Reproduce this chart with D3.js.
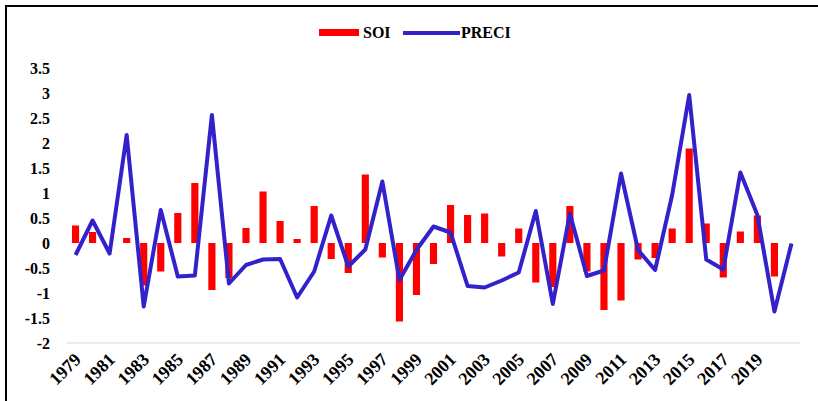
<!DOCTYPE html>
<html>
<head>
<meta charset="utf-8">
<script src="https://cdn.jsdelivr.net/npm/d3@7"></script>
<style>
  body { margin: 0; background: #fff; }
  text { font-family: "Liberation Serif", "Times New Roman", serif; font-weight: bold; fill: #000; }
</style>
</head>
<body>
<div id="chart"></div>
<script>
const years = d3.range(1979, 2022);
const soi = [0.35, 0.22, 0, 0.1, -0.85, -0.57, 0.6, 1.2, -0.94, -0.7, 0.3, 1.03,
  0.44, 0.08, 0.74, -0.32, -0.6, 1.37, -0.29, -1.57, -1.04, -0.42, 0.76, 0.56,
  0.59, -0.27, 0.29, -0.79, -0.88, 0.74, -0.57, -1.34, -1.15, -0.33, -0.3, 0.29,
  1.89, 0.39, -0.69, 0.23, 0.55, -0.67, null];
const preci = [-0.24, 0.45, -0.21, 2.16, -1.27, 0.66, -0.67, -0.65, 2.56, -0.81, -0.44, -0.33,
  -0.32, -1.09, -0.57, 0.55, -0.47, -0.13, 1.23, -0.74, -0.14, 0.33, 0.21, -0.86,
  -0.89, -0.75, -0.59, 0.64, -1.22, 0.59, -0.66, -0.55, 1.39, -0.14, -0.54, 0.96,
  2.96, -0.33, -0.53, 1.41, 0.56, -1.37, -0.01];
const yTicks = [-2, -1.5, -1, -0.5, 0, 0.5, 1, 1.5, 2, 2.5, 3, 3.5];
const xLabels = years.filter(y => y % 2 === 1 && y <= 2019);

const width = 818, height = 401;
const svg = d3.select('#chart').append('svg')
  .attr('width', width)
  .attr('height', height);

// frame (top and left edges visible)
svg.append('path')
  .attr('d', 'M6,401V6H818')
  .attr('fill', 'none')
  .attr('stroke', '#000')
  .attr('stroke-width', 2);

const x = d3.scaleBand().domain(years).range([67, 800]).padding(0);
const y = d3.scaleLinear().domain([-2, 3.5]).range([343, 68]);
const cx = d => x(d) + x.bandwidth() / 2;
const barW = x.bandwidth() * 0.42;

// bottom axis line
svg.append('line')
  .attr('x1', 67).attr('x2', 800)
  .attr('y1', y(-2)).attr('y2', y(-2))
  .attr('stroke', '#d9d9d9')
  .attr('stroke-width', 1);

// y labels
svg.append('g').selectAll('text')
  .data(yTicks)
  .enter()
  .append('text')
  .attr('x', 50)
  .attr('y', d => y(d))
  .attr('dy', '0.35em')
  .attr('text-anchor', 'end')
  .style('font-size', '16px')
  .text(d => d);

// x labels
svg.append('g').selectAll('text')
  .data(xLabels)
  .enter()
  .append('text')
  .attr('transform', d => `translate(${cx(d) - 3},${351}) rotate(-45)`)
  .attr('text-anchor', 'end')
  .attr('dy', '0.75em')
  .style('font-size', '18px')
  .text(d => d);

// bars
const barData = years.map((yr, i) => ({ yr, v: soi[i] })).filter(d => d.v !== null);
svg.append('g').selectAll('rect')
  .data(barData)
  .enter()
  .append('rect')
  .attr('x', d => cx(d.yr) - barW / 2)
  .attr('width', barW)
  .attr('y', d => y(Math.max(0, d.v)))
  .attr('height', d => Math.abs(y(d.v) - y(0)))
  .attr('fill', '#ff0000');

// line
const line = d3.line()
  .x((d, i) => cx(years[i]))
  .y(d => y(d));
svg.append('path')
  .datum(preci)
  .attr('d', line)
  .attr('fill', 'none')
  .attr('stroke', '#3322cc')
  .attr('stroke-width', 4)
  .attr('stroke-linejoin', 'round');

// legend
const lg = svg.append('g');
lg.append('rect')
  .attr('x', 319).attr('y', 29)
  .attr('width', 40).attr('height', 7)
  .attr('fill', '#ff0000');
lg.append('text')
  .attr('x', 363).attr('y', 38)
  .style('font-size', '16px')
  .text('SOI');
lg.append('line')
  .attr('x1', 403).attr('x2', 460)
  .attr('y1', 33).attr('y2', 33)
  .attr('stroke', '#3322cc')
  .attr('stroke-width', 4);
lg.append('text')
  .attr('x', 461).attr('y', 38)
  .style('font-size', '16px')
  .text('PRECI');
</script>
</body>
</html>
